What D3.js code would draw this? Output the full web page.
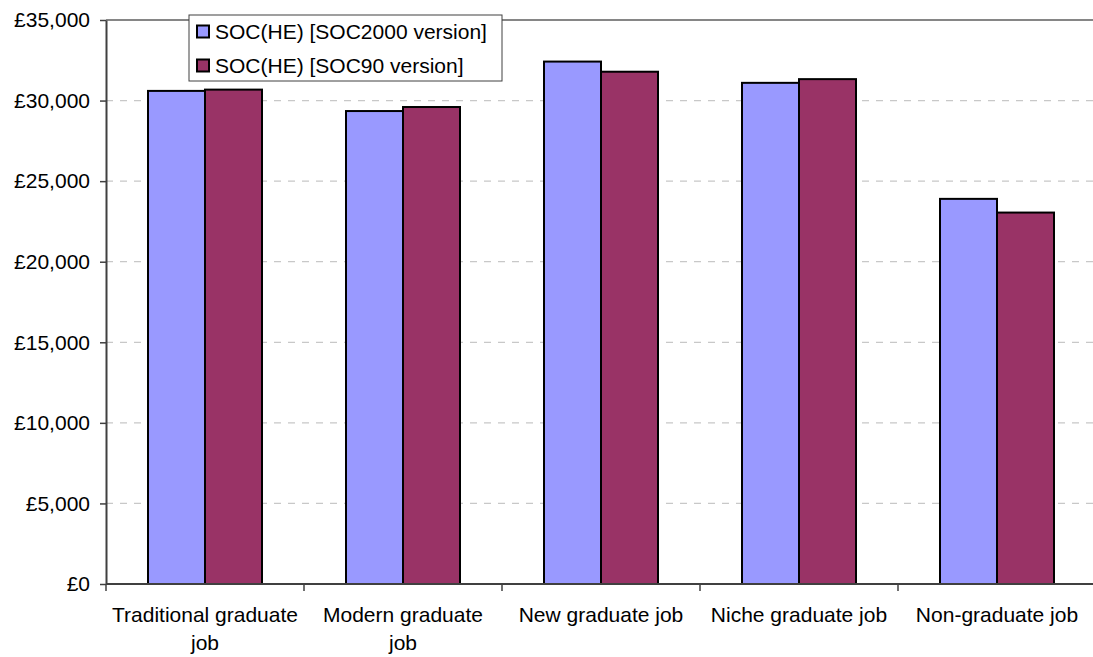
<!DOCTYPE html>
<html>
<head>
<meta charset="utf-8">
<script src="https://cdn.jsdelivr.net/npm/d3@7"></script>
<style>
  html, body { margin: 0; padding: 0; background: #fff; }
  svg { display: block; font-family: "Liberation Sans", Arial, sans-serif; }
</style>
</head>
<body>
<svg id="chart" width="1093" height="657"></svg>
<script>
const categories = ["Traditional graduate job", "Modern graduate job", "New graduate job", "Niche graduate job", "Non-graduate job"];
const seriesNames = ["SOC(HE) [SOC2000 version]", "SOC(HE) [SOC90 version]"];
const soc2000 = [30600, 29350, 32420, 31100, 23900];
const soc90 = [30680, 29600, 31790, 31330, 23050];
const yTicks = [0, 5000, 10000, 15000, 20000, 25000, 30000, 35000];
const colors = ["#9999FF", "#993366"];

(function () {
const svg = d3.select("#chart");
const pLeft = 106, pRight = 1096, pTop = 20, pBottom = 584;
const fontSize = 21;

const x0 = d3.scaleBand().domain(categories).range([pLeft, pRight]).padding(0);
const x1 = d3.scaleBand().domain(seriesNames).range([42, x0.bandwidth() - 42]).padding(0);
const y = d3.scaleLinear().domain([0, 35000]).range([pBottom, pTop]);

// gridlines
svg.append("g").selectAll("line")
  .data(yTicks.filter(d => d > 0 && d < 35000))
  .join("line")
  .attr("x1", pLeft).attr("x2", pRight)
  .attr("y1", d => y(d)).attr("y2", d => y(d))
  .attr("stroke", "#c8c8c8").attr("stroke-width", 1.2)
  .attr("stroke-dasharray", "7,7");

// top border of plot area
svg.append("line")
  .attr("x1", pLeft).attr("x2", pRight)
  .attr("y1", y(35000)).attr("y2", y(35000))
  .attr("stroke", "#868686").attr("stroke-width", 2);

// bars
const data = categories.map((c, i) => ({ cat: c, vals: [soc2000[i], soc90[i]] }));
const groups = svg.append("g").selectAll("g").data(data).join("g")
  .attr("transform", d => `translate(${x0(d.cat)},0)`);
groups.selectAll("rect")
  .data(d => d.vals.map((v, j) => ({ s: seriesNames[j], v, j })))
  .join("rect")
  .attr("x", d => x1(d.s))
  .attr("width", x1.bandwidth())
  .attr("y", d => y(d.v))
  .attr("height", d => y(0) - y(d.v))
  .attr("fill", d => colors[d.j])
  .attr("stroke", "#000").attr("stroke-width", 2);

// y axis
const yAxis = d3.axisLeft(y).tickValues(yTicks).tickSize(6).tickSizeOuter(0).tickPadding(10)
  .tickFormat(d => "£" + d3.format(",")(d));
const ya = svg.append("g").attr("transform", `translate(${pLeft},0)`).call(yAxis);
ya.select(".domain").attr("stroke", "#404040").attr("stroke-width", 2);
ya.selectAll(".tick line").attr("stroke", "#404040").attr("stroke-width", 1.5);
ya.selectAll(".tick text").attr("font-size", fontSize).attr("fill", "#000")
  .attr("font-family", "Liberation Sans, Arial, sans-serif");

// x axis line
svg.append("line")
  .attr("x1", pLeft).attr("x2", pRight)
  .attr("y1", y(0)).attr("y2", y(0))
  .attr("stroke", "#404040").attr("stroke-width", 2);

// x boundary ticks
const bounds = categories.map(c => x0(c)).concat([pRight]);
svg.append("g").selectAll("line").data(bounds).join("line")
  .attr("x1", d => d).attr("x2", d => d)
  .attr("y1", y(0)).attr("y2", y(0) + 7)
  .attr("stroke", "#404040").attr("stroke-width", 1.5);

// x labels with wrapping
const xl = svg.append("g").selectAll("text").data(categories).join("text")
  .attr("x", d => x0(d) + x0.bandwidth() / 2)
  .attr("y", 622)
  .attr("text-anchor", "middle")
  .attr("font-size", fontSize)
  .attr("fill", "#000");
xl.each(function (d) {
  const t = d3.select(this);
  const words = d.split(" ");
  let line = [];
  let tspan = t.append("tspan").attr("x", t.attr("x")).attr("dy", 0);
  words.forEach(w => {
    line.push(w);
    tspan.text(line.join(" "));
    if (tspan.node().getComputedTextLength() > 191 && line.length > 1) {
      line.pop();
      tspan.text(line.join(" "));
      line = [w];
      tspan = t.append("tspan").attr("x", t.attr("x")).attr("dy", 28).text(w);
    }
  });
});

// legend
const lg = svg.append("g");
lg.append("rect")
  .attr("x", 189).attr("y", 15).attr("width", 313).attr("height", 66)
  .attr("fill", "#fff").attr("stroke", "#404040").attr("stroke-width", 1);
const rows = lg.selectAll("g.row").data(seriesNames).join("g")
  .attr("transform", (d, i) => `translate(0,${31.5 + i * 34})`);
rows.append("rect")
  .attr("x", 197).attr("y", -6).attr("width", 12).attr("height", 12)
  .attr("fill", (d, i) => colors[i]).attr("stroke", "#000").attr("stroke-width", 2);
rows.append("text")
  .attr("x", 215).attr("y", 0).attr("dy", "0.35em")
  .attr("font-size", fontSize).attr("fill", "#000")
  .text(d => d);
})();
</script>
</body>
</html>
